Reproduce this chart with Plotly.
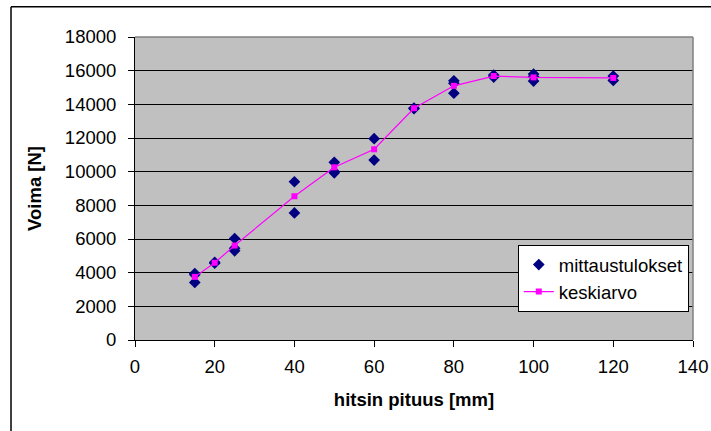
import plotly.graph_objects as go

# measured values (mittaustulokset)
x_meas = [15, 15, 15, 20, 20, 25, 25, 25, 40, 40, 50, 50, 50, 60, 60, 70, 70,
          80, 80, 80, 90, 90, 100, 100, 100, 120, 120]
y_meas = [3950, 3880, 3420, 4560, 4620, 6030, 5450, 5300, 9400, 7550,
          10560, 10000, 9930, 11960, 10690, 13780, 13740,
          15400, 15250, 14660, 15740, 15620, 15800, 15650, 15380, 15680, 15420]

# average (keskiarvo)
x_mean = [15, 20, 25, 40, 50, 60, 70, 80, 90, 100, 120]
y_mean = [3750, 4590, 5610, 8540, 10260, 11330, 13770, 15100, 15680, 15600, 15570]

FONT = "Liberation Sans, Arial, sans-serif"
FS = 18.5

fig = go.Figure()
fig.add_trace(go.Scatter(
    x=x_meas, y=y_meas, mode="markers", name="mittaustulokset",
    marker=dict(symbol="diamond", size=9, color="#000080",
                line=dict(width=0))))
fig.add_trace(go.Scatter(
    x=x_mean, y=y_mean, mode="lines+markers", name="keskiarvo",
    line=dict(color="#FF00FF", width=1.2),
    marker=dict(symbol="square", size=6, color="#FF00FF")))

fig.update_layout(
    width=711, height=431,
    margin=dict(l=135, r=18, t=37, b=91),
    paper_bgcolor="white", plot_bgcolor="#C0C0C0",
    font=dict(family=FONT, size=FS, color="black"),
    showlegend=True,
    legend=dict(x=0.686, y=0.3135, xanchor="left", yanchor="top",
                bgcolor="white", bordercolor="black", borderwidth=1,
                font=dict(family=FONT, size=FS, color="black"),
                tracegroupgap=0),
    xaxis=dict(range=[0, 140], dtick=20, tick0=0, showgrid=False,
               automargin=False,
               showline=True, linecolor="black", linewidth=1,
               ticks="outside", ticklen=6, tickcolor="black",
               zeroline=False, ticklabelstandoff=4,
               title=dict(text="hitsin pituus [mm]", standoff=16,
                          font=dict(family=FONT, size=FS, weight="bold"))),
    yaxis=dict(range=[0, 18000], dtick=2000, tick0=0, showgrid=True,
               tickformat="d", automargin=False,
               gridcolor="black", gridwidth=1,
               showline=True, linecolor="black", linewidth=1,
               ticks="outside", ticklen=6, tickcolor="black",
               zeroline=False, ticklabelstandoff=8,
               title=dict(text="Voima [N]", standoff=18,
                          font=dict(family=FONT, size=FS, weight="bold"))),
    shapes=[
        # gray plot area border (top and right)
        dict(type="line", xref="paper", yref="paper", x0=0, x1=1, y0=1, y1=1,
             line=dict(color="#808080", width=1.5), layer="above"),
        dict(type="line", xref="paper", yref="paper", x0=1, x1=1, y0=0, y1=1,
             line=dict(color="#808080", width=1.5), layer="above"),
        # chart outer border (left and top visible)
        dict(type="line", xref="paper", yref="paper",
             x0=-0.2222, x1=1.04, y0=1.0996, y1=1.0996,
             line=dict(color="black", width=1.5)),
        dict(type="line", xref="paper", yref="paper",
             x0=-0.2222, x1=-0.2222, y0=-0.30, y1=1.0996,
             line=dict(color="black", width=1.5)),
    ],
)

fig.write_html("out.html")
